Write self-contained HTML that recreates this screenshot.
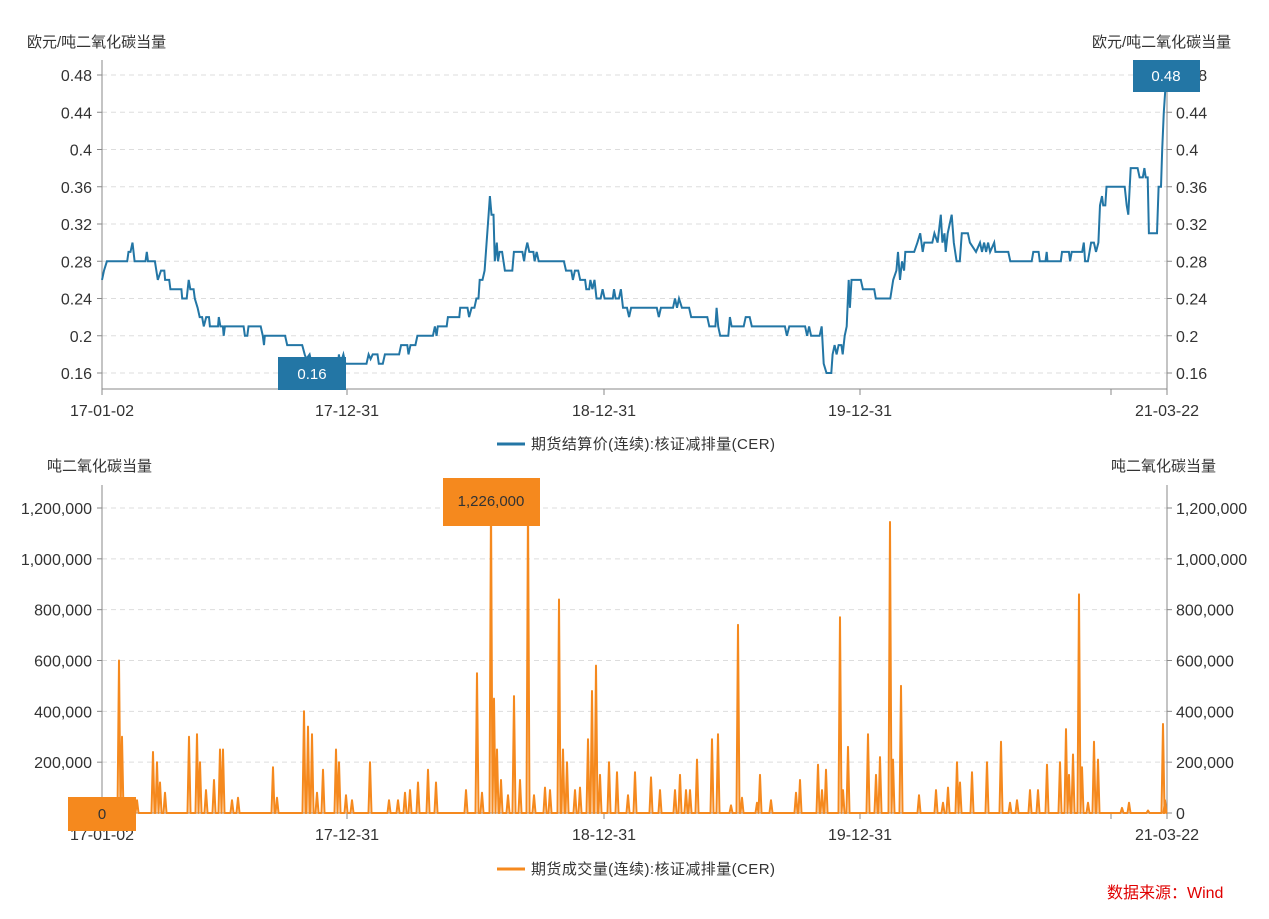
<!DOCTYPE html>
<html><head><meta charset="utf-8">
<style>
body{margin:0;background:#fff;width:1269px;height:914px;overflow:hidden}
svg text{font-family:"Liberation Sans","Noto Sans CJK SC",sans-serif;fill:#333;font-size:15px}
svg text.n{font-size:16px}
</style></head><body>
<svg id="s" width="1269" height="914" xmlns="http://www.w3.org/2000/svg">
<g id="grid"></g>
<line x1="102" y1="60" x2="102" y2="389" stroke="#888"/>
<line x1="1167" y1="60" x2="1167" y2="389" stroke="#888"/>
<line x1="102" y1="389" x2="1167" y2="389" stroke="#888"/>
<line x1="102" y1="485" x2="102" y2="813" stroke="#888"/>
<line x1="1167" y1="485" x2="1167" y2="813" stroke="#888"/>
<line x1="102" y1="813" x2="1167" y2="813" stroke="#888"/>
<g id="ticks"></g>
<text x="27" y="47">欧元/吨二氧化碳当量</text>
<text x="1092" y="47">欧元/吨二氧化碳当量</text>
<text x="47" y="471">吨二氧化碳当量</text>
<text x="1111" y="471">吨二氧化碳当量</text>
<path id="price" fill="none" stroke="#2376a5" stroke-width="2"/>
<path id="vol" fill="none" stroke="#f5891e" stroke-width="2" stroke-linejoin="round"/>
<rect x="278" y="357" width="68" height="33" fill="#2376a5"/>
<text x="312" y="379" text-anchor="middle" style="fill:#fff">0.16</text>
<rect x="1133" y="60" width="67" height="32" fill="#2376a5"/>
<text x="1166" y="81" text-anchor="middle" style="fill:#fff">0.48</text>
<rect x="443" y="478" width="97" height="48" fill="#f5891e"/>
<text x="491" y="506" text-anchor="middle">1,226,000</text>
<rect x="68" y="797" width="68" height="34" fill="#f5891e"/>
<text x="102" y="819" text-anchor="middle">0</text>
<line x1="497" y1="444" x2="525" y2="444" stroke="#2376a5" stroke-width="3"/>
<text x="531" y="449" textLength="244">期货结算价(连续):核证减排量(CER)</text>
<line x1="497" y1="869" x2="525" y2="869" stroke="#f5891e" stroke-width="3"/>
<text x="531" y="874" textLength="244">期货成交量(连续):核证减排量(CER)</text>
<text x="1107" y="898" style="fill:#e00000;font-size:16px">数据来源：Wind</text>
</svg>
<script>
var NS="http://www.w3.org/2000/svg";
function el(p,t,a,txt){var e=document.createElementNS(NS,t);for(var k in a)e.setAttribute(k,a[k]);if(txt!=null)e.textContent=txt;document.getElementById(p).appendChild(e);}
var pv=[0.16,0.2,0.24,0.28,0.32,0.36,0.4,0.44,0.48];
function py(v){return 373-(v-0.16)/0.04*37.25;}
pv.forEach(function(v){var y=py(v);
 el("grid","line",{x1:102,x2:1167,y1:y,y2:y,stroke:"#ddd","stroke-dasharray":"5,4"});
 el("ticks","line",{x1:97,x2:102,y1:y,y2:y,stroke:"#888"});
 el("ticks","line",{x1:1167,x2:1172,y1:y,y2:y,stroke:"#888"});
 var l=(Math.round(v*100)/100).toString();
 el("ticks","text",{x:92,y:y+6,"text-anchor":"end","class":"n"},l);
 el("ticks","text",{x:1176,y:y+6,"class":"n"},l);
});
var vv=[0,200000,400000,600000,800000,1000000,1200000];
function vy(v){return 813-v/1200000*305;}
vv.forEach(function(v){var y=vy(v);
 if(v>0)el("grid","line",{x1:102,x2:1167,y1:y,y2:y,stroke:"#ddd","stroke-dasharray":"5,4"});
 el("ticks","line",{x1:97,x2:102,y1:y,y2:y,stroke:"#888"});
 el("ticks","line",{x1:1167,x2:1172,y1:y,y2:y,stroke:"#888"});
 var l=v.toLocaleString("en-US");
 el("ticks","text",{x:92,y:y+6,"text-anchor":"end","class":"n"},l);
 el("ticks","text",{x:1176,y:y+6,"class":"n"},l);
});
[[102,"17-01-02"],[347,"17-12-31"],[604,"18-12-31"],[860,"19-12-31"],[1167,"21-03-22"]].forEach(function(a){
 [[389,416],[813,840]].forEach(function(b){
  el("ticks","line",{x1:a[0],x2:a[0],y1:b[0],y2:b[0]+6,stroke:"#888"});
  el("ticks","text",{x:a[0],y:b[1],"text-anchor":"middle","class":"n"},a[1]);
 });
});
[1111].forEach(function(x){el("ticks","line",{x1:x,x2:x,y1:389,y2:395,stroke:"#888"});el("ticks","line",{x1:x,x2:x,y1:813,y2:819,stroke:"#888"});});
var z1=[250,.26,255,.27,262,.28,312,.28,315,.29,320,.29,325,.30,330,.28,357,.28,360,.29,363,.28,380,.28,387,.26,395,.27,403,.27,405,.26,415,.26,418,.25,445,.25,447,.24,458,.24,463,.26,467,.25,475,.25,478,.24,485,.23,490,.22,496,.22,500,.21,506,.22,513,.22,515,.21,535,.21,537,.22,541,.21,547,.21,549,.20,552,.21,598,.21,601,.20,607,.20,610,.21,640,.21,645,.20,648,.19,650,.20,700,.20,705,.19,742,.19,748,.18,752,.175,760,.18,765,.17,830,.17,832,.18,836,.17,843,.18,848,.17,900,.17,905,.18,910,.175,915,.18,927,.18,930,.17,940,.17,945,.18,980,.18,985,.19,1000,.19,1003,.18,1008,.19,1020,.19,1025,.20,1063,.20,1068,.21,1072,.20,1075,.21,1097,.21,1100,.22,1128,.22,1130,.23,1148,.23,1152,.22,1158,.23,1165,.23,1170,.24,1175,.24,1178,.26,1185,.26,1190,.27,1195,.30,1200,.33,1203,.35,1207,.33,1212,.33,1215,.28,1220,.30,1223,.28,1227,.29,1233,.29,1240,.27,1258,.27,1262,.29,1283,.29,1287,.28,1290,.29,1295,.30,1300,.29,1310,.29,1313,.28,1318,.29,1323,.28,1385,.28,1390,.27,1403,.27,1407,.26,1412,.27,1420,.27,1425,.26,1437,.26,1440,.25,1447,.25,1450,.26,1455,.25,1460,.26,1465,.24,1475,.24,1480,.25,1485,.24,1505,.24,1508,.25,1512,.24,1520,.24,1525,.25,1530,.23,1540,.23,1545,.22,1550,.23];
var z2=[10,.23,55,.23,60,.22,65,.23,95,.23,100,.24,105,.23,110,.24,117,.23,135,.23,140,.22,180,.22,185,.21,200,.21,203,.23,207,.21,212,.20,232,.20,236,.22,240,.21,270,.21,275,.22,285,.22,290,.21,372,.21,377,.20,383,.21,422,.21,427,.20,432,.21,437,.20,458,.20,463,.21,468,.17,475,.16,487,.16,490,.18,495,.19,500,.18,505,.19,512,.19,515,.18,520,.20,525,.21,530,.26,533,.23,537,.26,560,.26,565,.25,593,.25,597,.24,633,.24,640,.26,648,.27,652,.29,657,.26,662,.28,667,.27,670,.29,692,.29,700,.30,707,.31,713,.29,717,.30,737,.30,742,.31,750,.30,758,.33,762,.30,767,.31,770,.29,775,.31,780,.32,785,.33,790,.30,797,.28,805,.28,810,.31,825,.31,830,.30,845,.29,855,.30,860,.29,865,.30,870,.29,875,.30,880,.29,890,.30,893,.29,925,.29,930,.28,983,.28,987,.29,1000,.29,1003,.28,1017,.28,1020,.29,1022,.28,1055,.28,1058,.29,1075,.29,1078,.28,1082,.29,1108,.29,1112,.30,1115,.28,1122,.28,1130,.30,1137,.30,1142,.29,1148,.30,1152,.34,1157,.35,1160,.34,1165,.34,1168,.36,1213,.36,1218,.34,1222,.33,1228,.38,1245,.38,1250,.37,1258,.37,1262,.38,1265,.37,1270,.37,1273,.31,1293,.31,1297,.36,1303,.36,1306,.40,1310,.44,1316,.48];
var d="";
for(var i=0;i<z1.length;i+=2){var x=102+(z1[i]-250)*0.407;d+=(d?"L":"M")+x.toFixed(1)+","+py(z1[i+1]).toFixed(1);}
for(var i=0;i<z2.length;i+=2){var x=634.6+z2[i]*0.404;d+="L"+x.toFixed(1)+","+py(z2[i+1]).toFixed(1);}
document.getElementById("price").setAttribute("d",d);
var sp=[[119,600],[122,300],[137,50],[153,240],[157,200],[160,120],[165,80],[189,300],[197,310],[200,200],[206,90],[214,130],[220,250],[223,250],[232,50],[238,60],[273,180],[277,60],[304,400],[308,340],[312,310],[317,80],[323,170],[336,250],[339,200],[346,70],[352,50],[370,200],[389,50],[398,50],[405,80],[410,90],[418,120],[428,170],[436,120],[466,90],[477,550],[482,80],[491,1226],[494,450],[497,250],[501,130],[508,70],[514,460],[520,130],[528,1226],[534,70],[545,100],[550,90],[559,840],[563,250],[567,200],[575,90],[580,100],[588,290],[592,480],[596,580],[600,150],[609,200],[617,160],[628,70],[635,160],[651,140],[660,90],[675,90],[680,150],[686,90],[690,90],[697,210],[712,290],[718,310],[731,30],[738,740],[742,60],[757,40],[760,150],[771,50],[796,80],[800,130],[818,190],[822,90],[826,170],[840,770],[843,90],[848,260],[868,310],[876,150],[880,220],[890,1145],[893,210],[901,500],[919,70],[936,90],[943,40],[948,100],[957,200],[960,120],[972,160],[987,200],[1001,280],[1010,40],[1017,50],[1030,90],[1038,90],[1047,190],[1060,200],[1066,330],[1069,150],[1073,230],[1079,860],[1082,180],[1088,40],[1094,280],[1098,210],[1122,20],[1129,40],[1148,10],[1163,350],[1165,50]];
var vd="M102,"+vy(0);
sp.forEach(function(s){vd+="L"+(s[0]-1.5)+","+vy(0)+"L"+s[0]+","+vy(s[1]*1000).toFixed(1)+"L"+(s[0]+1.5)+","+vy(0);});
vd+="L1167,"+vy(0);
document.getElementById("vol").setAttribute("d",vd);
</script>
</body></html>
